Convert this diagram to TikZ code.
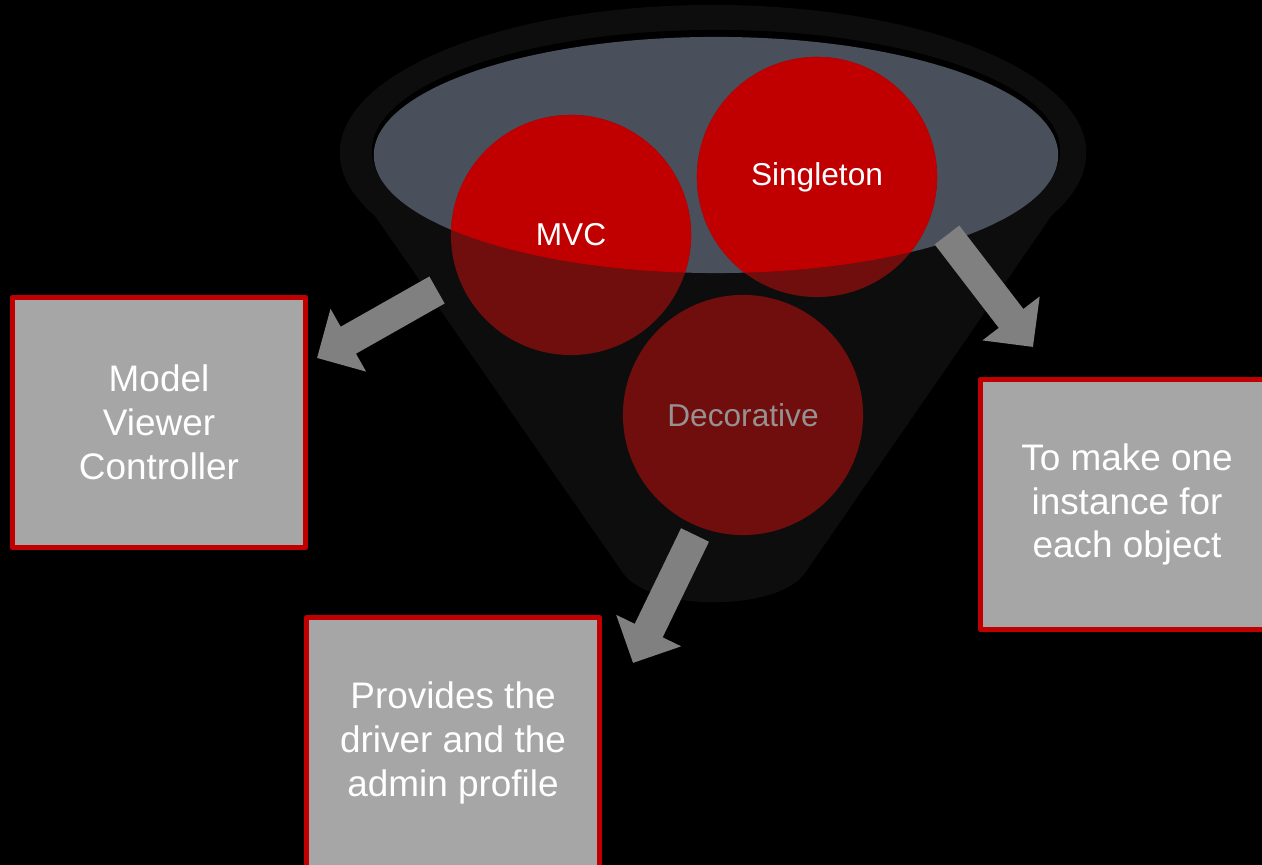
\documentclass[tikz,border=0pt]{standalone}
\usepackage{fontspec}
\setmainfont{Liberation Sans}
\usetikzlibrary{arrows.meta}

\definecolor{funnelgray}{RGB}{13,13,13}
\definecolor{plategray}{RGB}{73,80,92}
\definecolor{brightred}{RGB}{192,0,0}
\definecolor{deepred}{RGB}{112,13,13}
\definecolor{boxgray}{RGB}{166,166,166}
\definecolor{flowgray}{RGB}{128,128,128}
\definecolor{decotext}{RGB}{150,146,146}

\begin{document}
\begin{tikzpicture}[
    x=0.01cm,
    y=-0.01cm,
    line join=round,
    bubble/.style={text=white,font=\fontsize{9}{11}\selectfont},
    infobox/.style={draw=brightred,line width=0.05cm,fill=boxgray,
        minimum width=2.93cm,minimum height=2.50cm,
        text=white,align=center,font=\fontsize{10.5}{12.5}\selectfont},
    flow/.style={draw=flowgray,line width=0.31cm,
        -{Triangle[length=0.36cm,width=0.70cm]}}
]

% -------------------------------------------------
% Фон
% -------------------------------------------------

\useasboundingbox (0,0) rectangle (1262,865);
\clip (0,0) rectangle (1262,865);
\fill[black] (0,0) rectangle (1262,865);

% -------------------------------------------------
% Воронка
% -------------------------------------------------

\fill[funnelgray] (343,170) -- (623,573)
    .. controls (650,612) and (778,612) .. (805,573)
    -- (1083,170) -- cycle;
\fill[funnelgray] (713,153) ellipse [x radius=3.73cm, y radius=1.48cm];

\fill[black] (716,151) ellipse [x radius=3.44cm, y radius=1.21cm];
\fill[plategray] (716,155) ellipse [x radius=3.42cm, y radius=1.18cm];

% -------------------------------------------------
% Круги
% -------------------------------------------------

\coordinate (mvcC)    at (571,235);
\coordinate (singleC) at (817,177);
\coordinate (decoC)   at (743,415);

\fill[deepred] (mvcC)    circle [radius=1.2cm];
\fill[deepred] (singleC) circle [radius=1.2cm];
\fill[deepred] (decoC)   circle [radius=1.2cm];

\begin{scope}
    \clip (716,155) ellipse [x radius=3.42cm, y radius=1.18cm];
    \fill[brightred] (mvcC)    circle [radius=1.2cm];
    \fill[brightred] (singleC) circle [radius=1.2cm];
\end{scope}

\node[bubble] (mvc)    at (mvcC)    {MVC};
\node[bubble] (single) at (singleC) {Singleton};
\node[bubble,text=decotext] (deco) at (decoC) {Decorative};

% -------------------------------------------------
% Блоки
% -------------------------------------------------

\node[infobox] (mvcbox)    at (159,422.5)  {Model\\Viewer\\Controller};
\node[infobox] (singlebox) at (1127,504.5) {To make one\\instance for\\each object};
\node[infobox] (decobox)   at (453,743)    {Provides the\\driver and the\\admin profile};

% -------------------------------------------------
% Стрелки
% -------------------------------------------------

\coordinate (mvcTail)    at (437,290);
\coordinate (mvcTip)     at (317,358);
\coordinate (singleTail) at (947,235);
\coordinate (singleTip)  at (1033,347);
\coordinate (decoTail)   at (695,535);
\coordinate (decoTip)    at (633,663);

\draw[flow] (mvcTail)    -- (mvcTip);
\draw[flow] (singleTail) -- (singleTip);
\draw[flow] (decoTail)   -- (decoTip);

\end{tikzpicture}
\end{document}
